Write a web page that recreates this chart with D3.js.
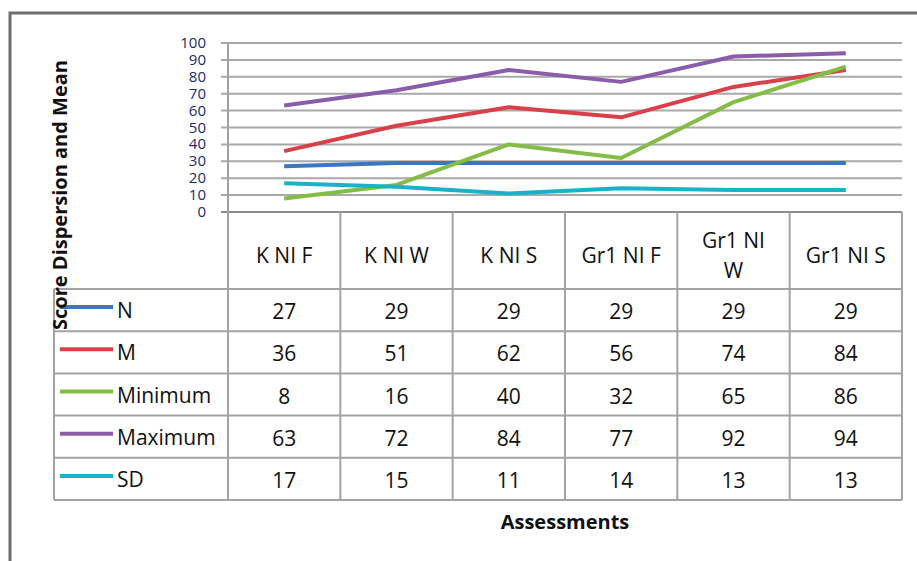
<!DOCTYPE html>
<html>
<head>
<meta charset="utf-8">
<script src="https://cdn.jsdelivr.net/npm/d3@7"></script>
<style>
  body { margin: 0; background: #fff; }
  svg { display: block; }
  text { font-family: "Open Sans", "Liberation Sans", sans-serif; fill: #111; }
</style>
</head>
<body>
<svg id="chart" width="917" height="561"></svg>
<script>
'use strict';

// categories (assessments) and the series from the data table
var assessments = ['K NI F', 'K NI W', 'K NI S', 'Gr1 NI F', 'Gr1 NI W', 'Gr1 NI S'];
var seriesNames = ['N', 'M', 'Minimum', 'Maximum', 'SD'];
var seriesColors = ['#3b77c1', '#d9404a', '#83bd45', '#8a5ca9', '#19b2c8'];
var valN = [27, 29, 29, 29, 29, 29];
var valM = [36, 51, 62, 56, 74, 84];
var valMin = [8, 16, 40, 32, 65, 86];
var valMax = [63, 72, 84, 77, 92, 94];
var valSD = [17, 15, 11, 14, 13, 13];
var yTicks = [0, 10, 20, 30, 40, 50, 60, 70, 80, 90, 100];

var seriesValues = [valN, valM, valMin, valMax, valSD];

var svg = d3.select('#chart');

// outer frame (top + left only)
svg.append('path')
	.attr('d', 'M10,561 L10,13 L917,13')
	.attr('fill', 'none')
	.attr('stroke', '#6e6e6e')
	.attr('stroke-width', 3);

var plotLeft = 228, plotRight = 902, plotTop = 43, plotBottom = 212;
var tableLeft = 54, headerBottom = 289, tableBottom = 500;

var x = d3.scaleBand().domain(assessments).range([plotLeft, plotRight]);
var y = d3.scaleLinear().domain([0, 100]).range([plotBottom, plotTop]);

// gridlines + tick marks
svg.append('g').selectAll('line').data(yTicks).enter().append('line')
	.attr('x1', plotLeft - 7).attr('x2', plotRight)
	.attr('y1', function(d) { return y(d); })
	.attr('y2', function(d) { return y(d); })
	.attr('stroke', function(d) { return d === 0 ? '#8c8c8c' : '#a9a9a9'; })
	.attr('stroke-width', 2);

// y axis line
svg.append('line')
	.attr('x1', plotLeft).attr('x2', plotLeft)
	.attr('y1', plotTop).attr('y2', plotBottom)
	.attr('stroke', '#a0a0a0').attr('stroke-width', 2);

// tick labels (tightly packed like the original)
svg.append('g').selectAll('text').data(yTicks).enter().append('text')
	.attr('x', 206)
	.attr('y', function(d) { return y(d) + 5; })
	.attr('text-anchor', 'end')
	.style('font-size', '15px')
	.style('fill', '#1d2a6b')
	.text(function(d) { return d; });

// series lines
var line = d3.line()
	.x(function(d, i) { return x(assessments[i]) + x.bandwidth() / 2; })
	.y(function(d) { return y(d); });

svg.append('g').selectAll('path').data(seriesValues).enter().append('path')
	.attr('d', function(d) { return line(d); })
	.attr('fill', 'none')
	.attr('stroke', function(d, i) { return seriesColors[i]; })
	.attr('stroke-width', 4)
	.attr('stroke-linejoin', 'round');

// data table
var rowH = (tableBottom - headerBottom) / seriesNames.length;
var tbl = svg.append('g').attr('stroke', '#a3a3a3').attr('stroke-width', 2);

// vertical lines at band edges
var edges = assessments.map(function(a) { return x(a); }).concat([plotRight]);
edges.forEach(function(ex) {
	tbl.append('line').attr('x1', ex).attr('x2', ex).attr('y1', plotBottom).attr('y2', tableBottom);
});
tbl.append('line').attr('x1', tableLeft).attr('x2', tableLeft).attr('y1', headerBottom).attr('y2', tableBottom);
for (var r = 0; r <= seriesNames.length; r++) {
	var ry = headerBottom + r * rowH;
	tbl.append('line').attr('x1', tableLeft).attr('x2', plotRight).attr('y1', ry).attr('y2', ry);
}

// header labels
assessments.forEach(function(a) {
	var cx = x(a) + x.bandwidth() / 2;
	if (a === 'Gr1 NI W') {
		svg.append('text').attr('x', cx).attr('y', 248).attr('text-anchor', 'middle')
			.style('font-size', '21px').text('Gr1 NI');
		svg.append('text').attr('x', cx).attr('y', 278).attr('text-anchor', 'middle')
			.style('font-size', '21px').text('W');
	} else {
		svg.append('text').attr('x', cx).attr('y', 263).attr('text-anchor', 'middle')
			.style('font-size', '21px').text(a);
	}
});

// legend keys + row values
seriesNames.forEach(function(name, i) {
	var cy = headerBottom + i * rowH + rowH / 2;
	svg.append('line')
		.attr('x1', 60).attr('x2', 113).attr('y1', cy - 3).attr('y2', cy - 3)
		.attr('stroke', seriesColors[i]).attr('stroke-width', 4);
	svg.append('text').attr('x', 117).attr('y', cy + 8)
		.style('font-size', '21px').text(name);
	seriesValues[i].forEach(function(v, j) {
		svg.append('text')
			.attr('x', x(assessments[j]) + x.bandwidth() / 2)
			.attr('y', cy + 9)
			.attr('text-anchor', 'middle')
			.style('font-size', '21px')
			.text(v);
	});
});

// axis titles
svg.append('text')
	.attr('transform', 'translate(67,195) rotate(-90)')
	.attr('text-anchor', 'middle')
	.style('font-size', '20px')
	.style('font-weight', 'bold')
	.text('Score Dispersion and Mean');

svg.append('text')
	.attr('x', 565).attr('y', 529)
	.attr('text-anchor', 'middle')
	.style('font-size', '20px')
	.style('font-weight', 'bold')
	.text('Assessments');
</script>
</body>
</html>
